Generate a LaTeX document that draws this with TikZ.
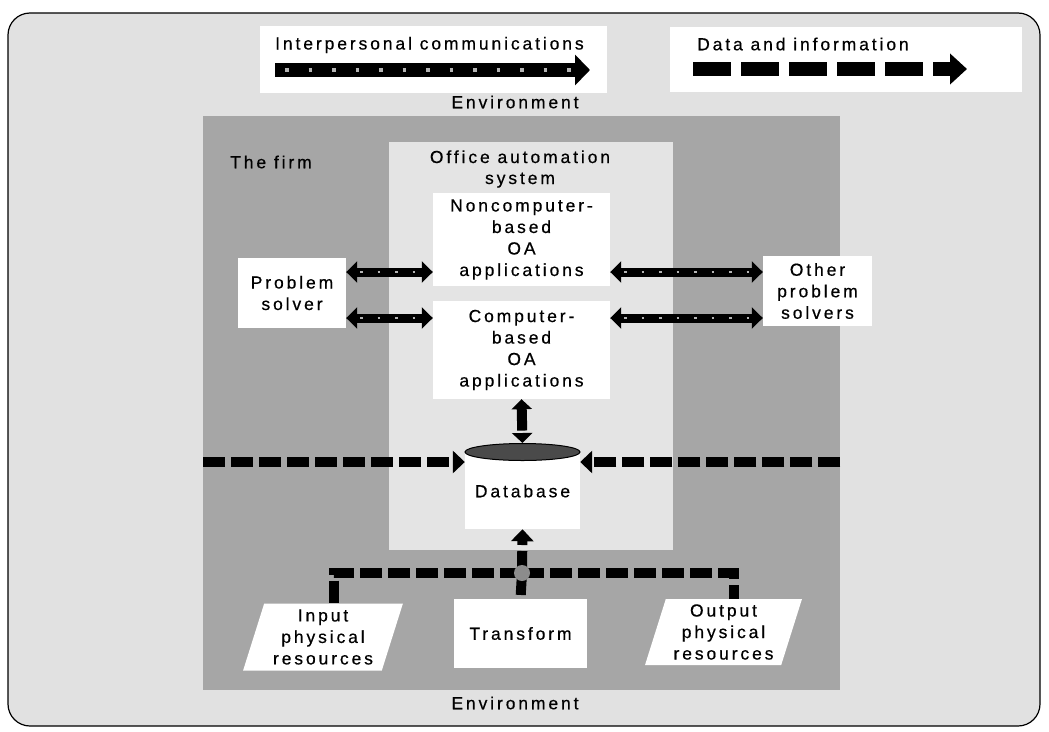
\documentclass[tikz,border=0pt]{standalone}
\usepackage{fontspec}
\setmainfont{Liberation Sans}[LetterSpace=16.5, FakeBold=0.5]
\usetikzlibrary{arrows.meta,shapes.geometric}

\definecolor{bggray}{HTML}{E1E1E1}
\definecolor{firmgray}{HTML}{A6A6A6}
\definecolor{oagray}{HTML}{E4E4E4}
\definecolor{dbgray}{HTML}{4A4A4A}
\definecolor{jgray}{HTML}{8C8C8C}
\definecolor{dotgray}{HTML}{B4B4B4}

\begin{document}
\begin{tikzpicture}[x=1pt,y=-1pt,
  font=\fontsize{17.5}{21.5}\selectfont,
  box/.style={fill=white, inner sep=0pt, align=center},
  label/.style={inner sep=0pt, align=center},
  comm/.style={line width=9pt,
    {Triangle[length=11pt,width=21pt]}-{Triangle[length=11pt,width=21pt]},
    postaction={draw=dotgray, arrows=-, line width=2.5pt,
      dash pattern=on 2.5pt off 15pt, shorten <=14pt, shorten >=14pt}},
  data/.style={line width=10pt, dash pattern=on 22pt off 6pt,
    -{Triangle[length=12pt,width=22pt]}},
  datatwo/.style={data,
    {Triangle[length=10pt,width=20pt]}-{Triangle[length=10pt,width=20pt]}},
  datalink/.style={line width=10pt, dash pattern=on 22pt off 6pt}
]
\useasboundingbox (0,0) rectangle (1049,731);
\fill[white] (0,0) rectangle (1049,731);
% outer frame (the environment)
\draw[fill=bggray, line width=1.2pt, rounded corners=22pt] (8,13) rectangle (1040,726);

% legend
\node[box, minimum width=347, minimum height=67] (leg1) at (433.5,59.5) {};
\node[box, minimum width=352, minimum height=65] (leg2) at (846,59.5) {};
\node[label, anchor=west] (legtxt1) at (275,45) {Interpersonal communications};
\node[label, anchor=west] (legtxt2) at (697,44) {Data and information};
\coordinate (ic1) at (275,70);
\coordinate (ic2) at (590,70);
\draw[line width=14pt, -{Triangle[length=15pt,width=30pt]},
  postaction={draw=dotgray, arrows=-, line width=3.5pt,
    dash pattern=on 3.5pt off 20pt, shorten <=10pt, shorten >=18pt}]
  (ic1) -- (ic2);
\coordinate (di1) at (693,69);
\coordinate (di2) at (967,69);
\draw[line width=14pt, dash pattern=on 38pt off 10pt,
  -{Triangle[length=17pt,width=30pt]}] (di1) -- (di2);
\node[label] (envtop) at (515,102) {Environment};

% the firm and the office automation system
\node[fill=firmgray, inner sep=0pt, minimum width=637, minimum height=574,
  anchor=north west] (firm) at (203,116) {};
\node[fill=oagray, inner sep=0pt, minimum width=284, minimum height=408,
  anchor=north west] (oa) at (389,142) {};
\node[label] (firmlbl) at (271,162) {The firm};
\node[label, font=\fontsize{17.5}{21}\selectfont] (oalbl) at (520,169)
  {Office automation\\system};

% OA applications
\node[box, minimum width=177, minimum height=93] (nca) at (521.5,239.5)
  {Noncomputer-\\based\\OA\\applications};
\node[box, minimum width=177, minimum height=98] (ca) at (521.5,350)
  {Computer-\\based\\OA\\applications};

% problem solvers
\node[box, minimum width=108, minimum height=70] (ps) at (292,293) {Problem\\solver};
\node[box, minimum width=109, minimum height=70] (ops) at (817.5,291)
  {Other\\problem\\solvers};

% database
\node[box, minimum width=115, minimum height=76] (db) at (522.5,491) {Database};
\node[ellipse, fill=dbgray, draw=black, line width=1pt, inner sep=0pt,
  minimum width=115, minimum height=17] (dbtop) at (522.5,452) {};

% physical system
\node[box, trapezium, trapezium left angle=72, trapezium right angle=108,
  trapezium stretches=true, minimum width=160, minimum height=67]
  (inp) at (323,637) {Input\\physical\\resources};
\node[box, minimum width=133, minimum height=69] (tr) at (520.5,633.5) {Transform};
\node[box, trapezium, trapezium left angle=72, trapezium right angle=108,
  trapezium stretches=true, minimum width=157, minimum height=66]
  (outp) at (723.5,632) {Output\\physical\\resources};
\node[label] (envbot) at (515,703) {Environment};

% interpersonal communication flows
\coordinate (rowa) at (0,272);
\coordinate (rowb) at (0,318);
\draw[comm] (ps.east |- rowa) -- (nca.west |- rowa);
\draw[comm] (ps.east |- rowb) -- (ca.west |- rowb);
\draw[comm] (nca.east |- rowa) -- (ops.west |- rowa);
\draw[comm] (ca.east |- rowb) -- (ops.west |- rowb);

% data flows
\coordinate (rowd) at (0,462);
\draw[data] (firm.west |- rowd) -- (db.west |- rowd);
\draw[data] (firm.east |- rowd) -- (db.east |- rowd);
\draw[datatwo] (ca.south) -- (dbtop.north);

\coordinate (jpos) at (522,573);
\draw[datalink] (jpos) -| (inp.top side);
\draw[datalink] (jpos) -| (outp.top side);
\draw[datalink] (jpos) -- (tr.north);
\draw[data] (jpos) -- (db.south);
\node[circle, fill=jgray, minimum size=16pt, inner sep=0pt] (jn) at (jpos) {};
\end{tikzpicture}
\end{document}
